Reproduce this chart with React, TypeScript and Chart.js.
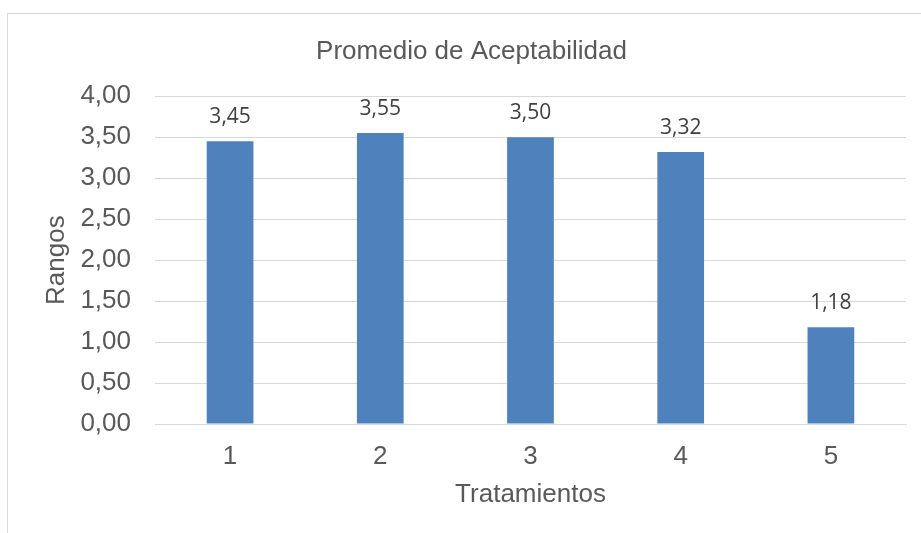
import React, { useEffect, useRef } from "react";
import { Chart, registerables } from "chart.js";

Chart.register(...registerables);

const categories = ["1", "2", "3", "4", "5"];
const values = [3.45, 3.55, 3.5, 3.32, 1.18];
const chartTitle = "Promedio de Aceptabilidad";
const xTitle = "Tratamientos";
const yTitle = "Rangos";
const yMin = 0;
const yMax = 4;
const yStep = 0.5;

const fmt = (v: number) => v.toFixed(2).replace(".", ",");

const dataLabelPlugin = {
  id: "dataLabels",
  afterDatasetsDraw(chart: any) {
    const ctx = chart.ctx;
    const meta = chart.getDatasetMeta(0);
    ctx.save();
    ctx.font = "21px 'Open Sans', sans-serif";
    ctx.fillStyle = "#404040";
    ctx.textAlign = "center";
    ctx.textBaseline = "alphabetic";
    meta.data.forEach((el: any, i: number) => {
      ctx.fillText(fmt(values[i]), el.x, el.y - 18);
    });
    ctx.restore();
  },
};

const font26 = { family: "'Liberation Sans', Arial, sans-serif", size: 26 };

export default function App() {
  const ref = useRef<HTMLCanvasElement | null>(null);
  useEffect(() => {
    if (!ref.current) return;
    const chart = new Chart(ref.current, {
      type: "bar",
      data: {
        labels: categories,
        datasets: [
          {
            data: values,
            backgroundColor: "#4F81BD",
            borderWidth: 0,
            barPercentage: 0.311,
            categoryPercentage: 1,
          },
        ],
      },
      options: {
        animation: false,
        responsive: false,
        maintainAspectRatio: false,
        layout: { padding: { left: 37, right: 15, top: 36, bottom: 16 } },
        plugins: {
          legend: { display: false },
          tooltip: { enabled: false },
          title: {
            display: true,
            text: chartTitle,
            color: "#595959",
            font: { ...font26, weight: "normal" },
            padding: { top: 0, bottom: 29 },
          },
        },
        scales: {
          x: {
            grid: { display: false, drawTicks: false },
            border: { display: true, color: "#d9d9d9", width: 1 },
            ticks: { color: "#595959", font: font26, padding: 17 },
            title: {
              display: true,
              text: xTitle,
              color: "#595959",
              font: font26,
              padding: { top: 8, bottom: 7 },
            },
            afterFit: (scale: any) => {
              scale.height = 93;
            },
          },
          y: {
            min: yMin,
            max: yMax,
            grid: { color: "#d9d9d9", drawTicks: false, lineWidth: 1 },
            border: { display: false },
            ticks: {
              stepSize: yStep,
              color: "#595959",
              font: font26,
              padding: 24,
              callback: (v: any) => fmt(Number(v)),
            },
            title: {
              display: true,
              text: yTitle,
              color: "#595959",
              font: font26,
              padding: { top: 4, bottom: 4 },
            },
            afterFit: (scale: any) => {
              scale.width = 118;
            },
          },
        },
      },
      plugins: [dataLabelPlugin],
    });
    return () => chart.destroy();
  }, []);
  return (
    <div style={{ position: "fixed", left: 0, top: 0, width: 921, height: 533, background: "#fff", overflow: "hidden" }}>
      <div
        style={{
          position: "absolute",
          left: 7,
          top: 13,
          width: 1000,
          height: 1000,
          borderTop: "1px solid #d9d9d9",
          borderLeft: "1px solid #d9d9d9",
        }}
      />
      <canvas ref={ref} width={921} height={533} style={{ position: "absolute", left: 0, top: 0 }} />
    </div>
  );
}
